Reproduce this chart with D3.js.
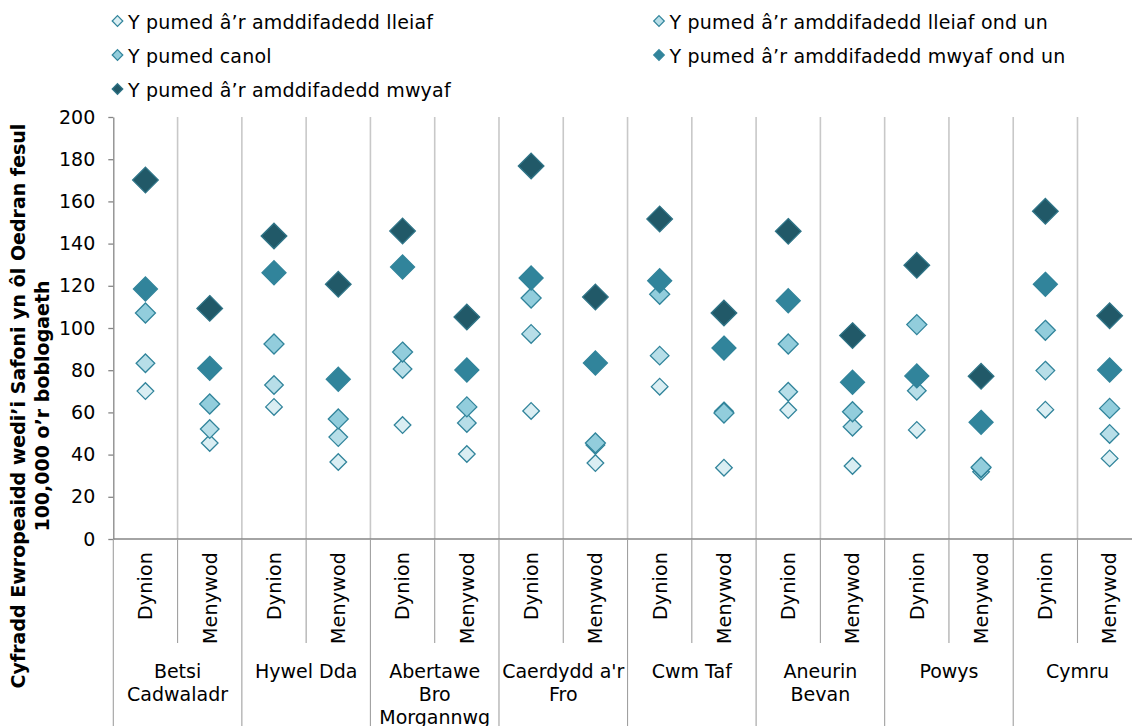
<!DOCTYPE html>
<html><head><meta charset="utf-8">
<script src="https://cdn.jsdelivr.net/npm/d3@7"></script>
<style>
html,body{margin:0;padding:0;background:#fff;overflow:hidden}
text{font-family:"DejaVu Sans",Verdana,sans-serif;fill:#000}
</style></head>
<body>
<svg id="chart" width="1132" height="726"></svg>
<script>
// ---- data ----
const groups = ["Betsi Cadwaladr", "Hywel Dda", "Abertawe Bro Morgannwg", "Caerdydd a'r Fro", "Cwm Taf", "Aneurin Bevan", "Powys", "Cymru"];
const groupLabelLines = [["Betsi", "Cadwaladr"], ["Hywel Dda"], ["Abertawe", "Bro", "Morgannwg"], ["Caerdydd a'r", "Fro"], ["Cwm Taf"], ["Aneurin", "Bevan"], ["Powys"], ["Cymru"]];
const sexes = ["Dynion", "Menywod"];
const seriesNames = ["Y pumed â’r amddifadedd lleiaf", "Y pumed â’r amddifadedd lleiaf ond un", "Y pumed canol", "Y pumed â’r amddifadedd mwyaf ond un", "Y pumed â’r amddifadedd mwyaf"];
const lleiaf      = [70.1, 45.5, 62.6, 36.5, 54.0, 40.3, 60.7, 36.0, 72.2, 33.8, 61.1, 34.6, 51.7, 31.9, 61.3, 38.2];
const lleiafOndUn = [83.3, 52.1, 73.0, 48.3, 80.6, 55.0, 97.2, 44.5, 86.9, 60.5, 69.8, 53.2, 70.3, 33.5, 79.8, 49.8];
const canol       = [107.1, 64.0, 92.4, 56.9, 88.6, 62.6, 114.2, 45.5, 116.0, 59.7, 92.4, 60.3, 101.6, 34.0, 98.9, 61.9];
const mwyafOndUn  = [118.5, 80.9, 126.2, 75.7, 128.9, 80.1, 123.7, 83.4, 122.4, 90.5, 112.9, 74.3, 77.3, 55.3, 120.7, 80.1];
const mwyaf       = [170.1, 109.3, 143.6, 120.7, 146.0, 105.2, 176.8, 114.7, 151.7, 107.1, 145.8, 96.4, 129.7, 77.1, 155.3, 105.8];
const yTicks = [0, 20, 40, 60, 80, 100, 120, 140, 160, 180, 200];
const yTitleLines = ["Cyfradd Ewropeaidd wedi’i Safoni yn ôl Oedran fesul", "100,000 o’r boblogaeth"];

// ---- styles ----
const seriesValues = [lleiaf, lleiafOndUn, canol, mwyafOndUn, mwyaf];
const fills = ["#DAEEF3", "#B7DEE8", "#92CDDC", "#31849B", "#215968"];
const strokes = ["#31849B", "#31849B", "#31849B", "#31849B", "#2f7487"];
const radii = [8.3, 9.3, 10, 12, 12.8];

const FS = 19;
const LS = "0.2px";
const svg = d3.select("#chart");
const plotLeft = 113.3, plotTop = 117, plotBottom = 539, colW = 64.28;
const keys = [];
groups.forEach(g => sexes.forEach(s => keys.push(g + "|" + s)));
const x = d3.scaleBand().domain(keys).range([plotLeft, plotLeft + colW * keys.length]).padding(0);
const y = d3.scaleLinear().domain([0, 200]).range([plotBottom, plotTop]);

const diamond = r => `M0,${-r}L${r},0L0,${r}L${-r},0Z`;

// vertical gridlines (category separators) inside plot
svg.append("g").selectAll("line").data(keys).join("line")
  .attr("x1", d => x(d) + x.bandwidth()).attr("x2", d => x(d) + x.bandwidth())
  .attr("y1", plotTop).attr("y2", plotBottom)
  .attr("stroke", "#c8c8c8").attr("stroke-width", 1.6);

// y axis
const yAxis = d3.axisLeft(y).tickValues(yTicks).tickSize(5).tickSizeOuter(0).tickPadding(13);
const ya = svg.append("g").attr("transform", `translate(${plotLeft},0)`).call(yAxis);
ya.select(".domain").attr("stroke", "#868686").attr("stroke-width", 1.3);
ya.selectAll(".tick line").attr("stroke", "#868686").attr("stroke-width", 1.3);
ya.selectAll(".tick text").attr("font-size", FS).attr("font-family", "DejaVu Sans").attr("fill", "#000");

// x axis line
svg.append("line").attr("x1", plotLeft).attr("x2", 1132).attr("y1", plotBottom).attr("y2", plotBottom)
  .attr("stroke", "#868686").attr("stroke-width", 1.3);

// category area separators
const catG = svg.append("g");
keys.forEach((k, i) => {
  const xb = x(k);
  const isGroupStart = i % 2 === 0;
  catG.append("line").attr("x1", xb).attr("x2", xb).attr("y1", plotBottom).attr("y2", isGroupStart ? 726 : 643)
    .attr("stroke", "#a0a0a0").attr("stroke-width", 1.1);
});

// sex labels
catG.selectAll("text.sex").data(keys).join("text").attr("class", "sex")
  .attr("transform", d => `translate(${x(d) + x.bandwidth() / 2},552) rotate(-90)`)
  .attr("text-anchor", "end").attr("dy", "0.36em").attr("font-size", FS).attr("letter-spacing", LS)
  .text(d => d.split("|")[1]);

// group labels
groups.forEach((g, gi) => {
  const cx = x(g + "|Dynion") + x.bandwidth();
  const t = catG.append("text").attr("text-anchor", "middle").attr("font-size", FS);
  groupLabelLines[gi].forEach((ln, li) => {
    t.append("tspan").attr("x", cx).attr("y", 678 + li * 23).text(ln);
  });
});

// y title
const yt = svg.append("text").attr("transform", "translate(0,406) rotate(-90)")
  .attr("text-anchor", "middle").attr("font-size", FS).attr("font-weight", "bold");
yTitleLines.forEach((ln, i) => {
  yt.append("tspan").attr("x", 0).attr("y", 25 + i * 24).text(ln);
});

// markers
seriesValues.forEach((vals, si) => {
  svg.append("g").selectAll("path").data(vals).join("path")
    .attr("transform", (v, i) => `translate(${x(keys[i]) + x.bandwidth() / 2},${y(v)})`)
    .attr("d", diamond(radii[si]))
    .attr("fill", fills[si]).attr("stroke", strokes[si]).attr("stroke-width", 1.3);
});

// legend
const legPos = [[117.5, 21], [659, 21], [117.5, 55], [659, 55], [117.5, 89]];
const leg = svg.append("g");
seriesNames.forEach((name, i) => {
  const [lx, ly] = legPos[i];
  leg.append("path").attr("transform", `translate(${lx},${ly})`).attr("d", diamond(5.3))
    .attr("fill", fills[i]).attr("stroke", strokes[i]).attr("stroke-width", 1.2);
  leg.append("text").attr("x", lx + 10.5).attr("y", ly + 8).attr("font-size", FS).attr("letter-spacing", LS).text(name);
});
</script>
</body></html>
